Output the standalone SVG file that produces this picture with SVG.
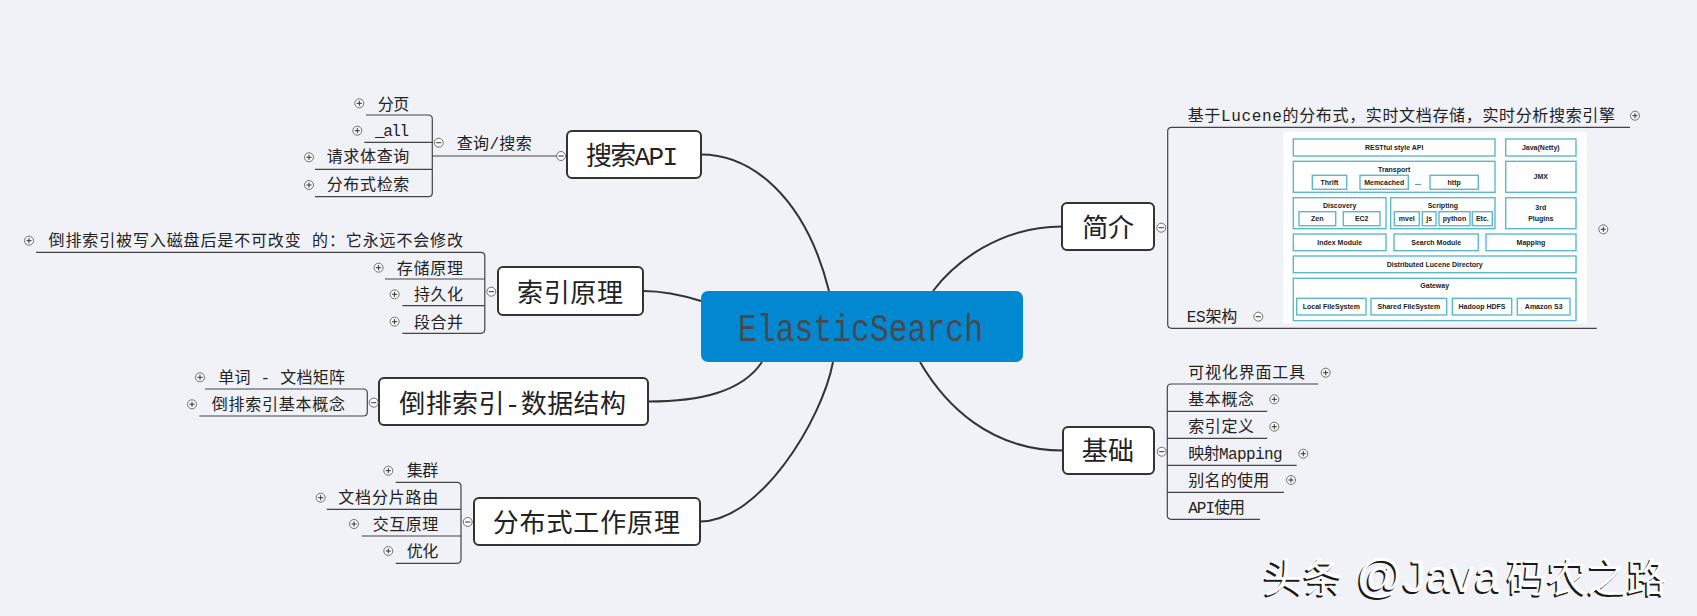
<svg xmlns="http://www.w3.org/2000/svg" width="1697" height="616" viewBox="0 0 1697 616">
<defs>
<style>
.mt{font-family:'Liberation Mono','Noto Sans CJK SC',monospace;font-size:26px;fill:#222}
.st{font-family:'Liberation Mono','Noto Sans CJK SC',monospace;font-size:16px;fill:#222}
.box{fill:#fff;stroke:#333;stroke-width:2}
.conn{fill:none;stroke:#333;stroke-width:2}
.ln{fill:none;stroke:#444;stroke-width:1.2}
.btn{fill:#fbfbfd;stroke:#707070;stroke-width:1}
.sign{stroke:#333;stroke-width:1;fill:none}
.ab{fill:#fff;stroke:#5ab9cf;stroke-width:1.4}
.at{font-family:'Liberation Sans',Arial,sans-serif;font-weight:bold;font-size:7px;fill:#222;text-anchor:middle}
</style>
<g id="plus"><circle r="4.5" class="btn"/><path d="M-2.6 0H2.6M0-2.6V2.6" class="sign"/></g>
<g id="minus"><circle r="4.5" class="btn"/><path d="M-2.6 0H2.6" class="sign"/></g>
</defs>
<rect width="1697" height="616" fill="#f1f2f8"/>

<g id="connectors">
<path class="conn" d="M701 154.5C750 154.5 805 195 829 291"/>
<path class="conn" d="M643 291C665 291 685 296 701 301"/>
<path class="conn" d="M648 401.5C700 401.5 742 392 762 362"/>
<path class="conn" d="M700 521.5C760 521.5 822 420 833 362"/>
<path class="conn" d="M933 291C955 262 1000 226.5 1062 226.5"/>
<path class="conn" d="M920 362C945 405 990 450.5 1063 450.5"/>
<path class="ln" d="M366 115H428.3Q432.3 115 432.3 119V192.7Q432.3 196.7 428.3 196.7H315M364.3 142.3H432.3M315 169.3H432.3M432.3 156H556.5"/>
<path class="ln" d="M36 252.3H480.8Q484.8 252.3 484.8 256.3V329.3Q484.8 333.3 480.8 333.3H402.4M385 279H484.8M402.4 305.7H484.8"/>
<path class="ln" d="M205 389H363.3Q367.3 389 367.3 393V412Q367.3 416 363.3 416H199.3"/>
<path class="ln" d="M395.7 482.3H457Q461 482.3 461 486.3V559.3Q461 563.3 457 563.3H395.7M326.7 509.3H461M361.7 536H461"/>
<path class="ln" d="M1630 127.3H1171.7Q1167.7 127.3 1167.7 131.3V324.3Q1167.7 328.3 1171.7 328.3H1596.7"/>
<path class="ln" d="M1318.3 384H1171.3Q1167.3 384 1167.3 388V515.3Q1167.3 519.3 1171.3 519.3H1260M1167.3 411.3H1267.3M1167.3 438.3H1267.3M1167.3 465.3H1296.7M1167.3 492.3H1284"/>
</g>

<g id="n-root">
<rect x="701" y="291" width="322" height="71" rx="7" fill="#0288d1"/>
<text x="738" y="341" font-family="'Liberation Mono',monospace" font-size="38" textLength="245" lengthAdjust="spacingAndGlyphs" fill="#454a50">ElasticSearch</text>
</g>

<g id="n-search">
<rect class="box" x="567" y="131" width="134" height="47" rx="5"/>
<text class="mt" x="586" y="165" textLength="92">搜索API</text>
<use href="#minus" x="561" y="156"/>
</g>
<g id="n-query">
<text class="st" x="456.7" y="149" textLength="75">查询/搜索</text>
<use href="#minus" x="438.7" y="142.7"/>
</g>
<g id="n-page"><text class="st" x="377.7" y="110" textLength="31.6">分页</text><use href="#plus" x="359.3" y="103.3"/></g>
<g id="n-all"><text class="st" x="375" y="136" textLength="34">_all</text><use href="#plus" x="357.3" y="130.7"/></g>
<g id="n-body"><text class="st" x="326.7" y="162" textLength="82.6">请求体查询</text><use href="#plus" x="309" y="157.3"/></g>
<g id="n-dist-search"><text class="st" x="326.7" y="190" textLength="82.6">分布式检索</text><use href="#plus" x="309" y="185"/></g>

<g id="n-index">
<rect class="box" x="498" y="267" width="145" height="48" rx="5"/>
<text class="mt" x="517" y="302" textLength="106">索引原理</text>
<use href="#minus" x="491.3" y="291.7"/>
</g>
<g id="n-immutable"><text class="st" x="48.6" y="246" textLength="414.4">倒排索引被写入磁盘后是不可改变 的：它永远不会修改</text><use href="#plus" x="29" y="240.7"/></g>
<g id="n-store"><text class="st" x="396.8" y="273.5" textLength="66.2">存储原理</text><use href="#plus" x="378.6" y="267.7"/></g>
<g id="n-persist"><text class="st" x="414" y="300" textLength="49">持久化</text><use href="#plus" x="394.6" y="294.3"/></g>
<g id="n-merge"><text class="st" x="414" y="327.5" textLength="49">段合并</text><use href="#plus" x="394.6" y="321.7"/></g>

<g id="n-inverted">
<rect class="box" x="379" y="378" width="269" height="47" rx="5"/>
<text class="mt" x="399.3" y="412.5" textLength="226.7">倒排索引-数据结构</text>
<use href="#minus" x="373.7" y="402.7"/>
</g>
<g id="n-matrix"><text class="st" x="218.3" y="382.5" textLength="126.7">单词 - 文档矩阵</text><use href="#plus" x="200" y="377.3"/></g>
<g id="n-concept"><text class="st" x="211.7" y="410" textLength="133.3">倒排索引基本概念</text><use href="#plus" x="192" y="404.3"/></g>

<g id="n-distributed">
<rect class="box" x="474" y="498" width="226" height="47" rx="5"/>
<text class="mt" x="492.7" y="532" textLength="187.3">分布式工作原理</text>
<use href="#minus" x="467.7" y="522"/>
</g>
<g id="n-cluster"><text class="st" x="406.7" y="476" textLength="31.6">集群</text><use href="#plus" x="388.3" y="470.7"/></g>
<g id="n-route"><text class="st" x="338.3" y="503" textLength="100">文档分片路由</text><use href="#plus" x="320.7" y="497.7"/></g>
<g id="n-interact"><text class="st" x="372.7" y="529.5" textLength="65.6">交互原理</text><use href="#plus" x="354" y="524"/></g>
<g id="n-opt"><text class="st" x="406.7" y="557" textLength="31.6">优化</text><use href="#plus" x="388.3" y="551"/></g>

<g id="n-intro">
<rect class="box" x="1062" y="203" width="92" height="47" rx="5"/>
<text class="mt" x="1082.3" y="237" textLength="51.7">简介</text>
<use href="#minus" x="1161.3" y="227.7"/>
</g>
<g id="n-desc"><text class="st" x="1187.7" y="121" textLength="427.3">基于Lucene的分布式，实时文档存储，实时分析搜索引擎</text><use href="#plus" x="1635" y="115.7"/></g>
<g id="n-arch">
<text class="st" x="1186.7" y="322" textLength="50.6">ES架构</text>
<use href="#minus" x="1258.3" y="316.7"/>
<use href="#plus" x="1603.3" y="229.3"/>
<rect x="1283.3" y="131.7" width="303.4" height="191.6" fill="#fff"/>
<rect class="ab" x="1293.3" y="139" width="201.7" height="17"/>
<text class="at" x="1394.2" y="150">RESTful style API</text>
<rect class="ab" x="1505.7" y="139" width="70.3" height="17"/>
<text class="at" x="1540.8" y="150">Java(Netty)</text>
<rect class="ab" x="1293.3" y="161.3" width="201.7" height="31"/>
<text class="at" x="1394.2" y="171.5">Transport</text>
<rect class="ab" x="1312.3" y="175.3" width="34.4" height="14"/>
<text class="at" x="1329.5" y="184.8">Thrift</text>
<rect class="ab" x="1360" y="175.3" width="48.3" height="14"/>
<text class="at" x="1384.2" y="184.8">Memcached</text>
<text class="at" x="1418" y="184.8">...</text>
<rect class="ab" x="1430" y="175.3" width="48.3" height="14"/>
<text class="at" x="1454.2" y="184.8">http</text>
<rect class="ab" x="1505.7" y="161.3" width="70.3" height="31"/>
<text class="at" x="1540.8" y="178.5">JMX</text>
<rect class="ab" x="1293.3" y="197.7" width="92.7" height="31"/>
<text class="at" x="1339.7" y="207.5">Discovery</text>
<rect class="ab" x="1299" y="211.7" width="36.7" height="14"/>
<text class="at" x="1317.3" y="221">Zen</text>
<rect class="ab" x="1343.3" y="211.7" width="36.7" height="14"/>
<text class="at" x="1361.7" y="221">EC2</text>
<rect class="ab" x="1390.7" y="197.7" width="104.3" height="31"/>
<text class="at" x="1442.8" y="207.5">Scripting</text>
<rect class="ab" x="1394.3" y="211.7" width="25" height="14"/>
<text class="at" x="1406.8" y="221">mvel</text>
<rect class="ab" x="1422.3" y="211.7" width="13.7" height="14"/>
<text class="at" x="1429.2" y="221">js</text>
<rect class="ab" x="1439" y="211.7" width="31" height="14"/>
<text class="at" x="1454.5" y="221">python</text>
<rect class="ab" x="1472.3" y="211.7" width="20" height="14"/>
<text class="at" x="1482.3" y="221">Etc.</text>
<rect class="ab" x="1505.7" y="197.7" width="70.3" height="31"/>
<text class="at" x="1540.8" y="210">3rd</text>
<text class="at" x="1540.8" y="221">Plugins</text>
<rect class="ab" x="1293.3" y="234" width="92.7" height="16.7"/>
<text class="at" x="1339.7" y="245">Index Module</text>
<rect class="ab" x="1394" y="234" width="84.3" height="16.7"/>
<text class="at" x="1436.2" y="245">Search Module</text>
<rect class="ab" x="1486" y="234" width="90" height="16.7"/>
<text class="at" x="1531" y="245">Mapping</text>
<rect class="ab" x="1293.3" y="256" width="282.7" height="16.7"/>
<text class="at" x="1434.7" y="267">Distributed Lucene Directory</text>
<rect class="ab" x="1293.3" y="278.3" width="282.7" height="42.4"/>
<text class="at" x="1434.7" y="288">Gateway</text>
<rect class="ab" x="1296.7" y="298.3" width="69.3" height="16.7"/>
<text class="at" x="1331.3" y="309">Local FileSystem</text>
<rect class="ab" x="1371" y="298.3" width="75.7" height="16.7"/>
<text class="at" x="1408.8" y="309">Shared FileSystem</text>
<rect class="ab" x="1452.3" y="298.3" width="59.4" height="16.7"/>
<text class="at" x="1482" y="309">Hadoop HDFS</text>
<rect class="ab" x="1517.3" y="298.3" width="52.7" height="16.7"/>
<text class="at" x="1543.7" y="309">Amazon S3</text>
</g>

<g id="n-basic">
<rect class="box" x="1063" y="427" width="91" height="47" rx="5"/>
<text class="mt" x="1081.7" y="460" textLength="52.3">基础</text>
<use href="#minus" x="1161.7" y="451.7"/>
</g>
<g id="n-ui"><text class="st" x="1188.3" y="378" textLength="116.7">可视化界面工具</text><use href="#plus" x="1325.7" y="372.7"/></g>
<g id="n-basic-concept"><text class="st" x="1188.3" y="404.5" textLength="65.7">基本概念</text><use href="#plus" x="1274.3" y="399.3"/></g>
<g id="n-index-def"><text class="st" x="1188.3" y="432" textLength="65.7">索引定义</text><use href="#plus" x="1274.3" y="426.7"/></g>
<g id="n-mapping"><text class="st" x="1188.3" y="459" textLength="94.4">映射Mapping</text><use href="#plus" x="1303.3" y="453.7"/></g>
<g id="n-alias"><text class="st" x="1188.3" y="486" textLength="81">别名的使用</text><use href="#plus" x="1291" y="480"/></g>
<g id="n-api"><text class="st" x="1188.3" y="513" textLength="56.7">API使用</text></g>

<g id="watermark">
<text y="593.8" fill="#1a1a1a" font-family="'Noto Sans CJK SC',sans-serif" font-size="40"><tspan x="1261.5">头条</tspan><tspan x="1354.5" font-family="'Liberation Sans',Arial,sans-serif" font-size="46">@Java</tspan><tspan x="1505">码农之路</tspan></text>
<text y="592" fill="#ffffff" font-family="'Noto Sans CJK SC',sans-serif" font-size="40"><tspan x="1263.3">头条</tspan><tspan x="1356.3" font-family="'Liberation Sans',Arial,sans-serif" font-size="46">@Java</tspan><tspan x="1506.8">码农之路</tspan></text>
</g>
</svg>
